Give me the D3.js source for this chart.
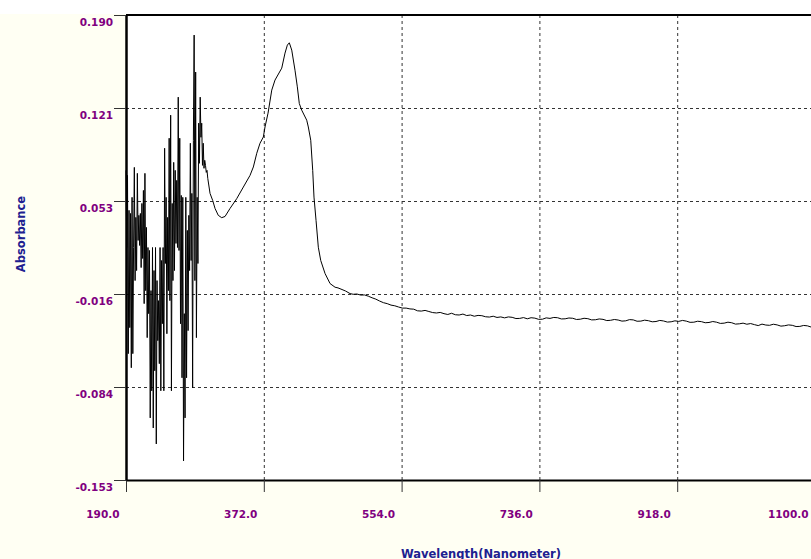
<!DOCTYPE html>
<html><head><meta charset="utf-8">
<script src="https://cdn.jsdelivr.net/npm/d3@7"></script>
<style>html,body{margin:0;padding:0;background:#fff;overflow:hidden}</style>
</head><body>
<svg id="c" width="811" height="559"></svg>
<script>
const xTickValues = [190, 372, 554, 736, 918, 1100];
const xTickLabels = ["190.0", "372.0", "554.0", "736.0", "918.0", "1100.0"];
const yTickValues = [0.190, 0.1214, 0.0528, -0.0158, -0.0844, -0.153];
const yTickLabels = ["0.190", "0.121", "0.053", "-0.016", "-0.084", "-0.153"];
const xTitle = "Wavelength(Nanometer)";
const yTitle = "Absorbance";

// noisy region 190-298 nm
const noiseWavelength = [190,191,192,193,194,195,196,197,198,199,200,201,202,203,204,205,206,207,208,209,
210,211,212,213,214,215,216,217,218,219,220,221,222,223,224,225,226,227,228,229,
230,231,232,233,234,235,236,237,238,239,240,241,242,243,244,245,246,247,248,249,
250,251,252,253,254,255,256,257,258,259,260,261,262,263,264,265,266,267,268,269,
270,271,272,273,274,275,276,277,278,279,280,281,282,283,284,285,286,287,288,289,
290,291,292,293,294,295,296,297,298];
const noiseAbsorbance = [0.0754,0.0185,0.0717,-0.0598,0.0459,-0.0406,0.0436,-0.0702,0.0555,-0.0598,
0.0185,0.0776,-0.0059,0.0407,0.0015,0.0732,0.0237,0.0422,0.0200,0.0436,
0.0037,0.0510,0.0104,0.0606,-0.0229,0.0732,-0.0133,0.0333,-0.0480,0.0185,
-0.0303,0.0163,-0.1072,-0.0133,-0.0872,0.0185,-0.1146,0.0015,-0.0724,0.0185,
-0.1264,-0.0059,-0.0502,-0.0207,-0.0672,0.0185,-0.0872,0.0089,-0.0377,0.0185,
-0.0872,0.0917,0.0067,0.0555,-0.0451,0.0407,-0.0133,0.0991,-0.0207,0.1161,
-0.0872,0.0510,-0.0059,0.0813,0.0015,0.0754,0.0215,0.0680,0.0185,0.1294,
0.0163,0.0991,-0.0377,0.0569,-0.0776,0.0555,-0.1389,-0.0303,-0.1072,0.0555,
-0.0776,0.0311,-0.0428,0.0422,0.0015,0.0954,0.0089,0.0584,-0.0850,0.0976,
0.1752,-0.0059,0.1479,-0.0480,0.0555,0.0067,0.1102,0.0806,0.1294,0.0998,
0.1102,0.0791,0.0954,0.0769,0.0828,0.0791,0.0739,0.0754,0.0695];

// absorption band
const bandWavelength = [301.0,304.5,307.6,311.9,316.4,320.8,327.4,336.2,345.0,353.8,358.2,362.7,367.0,371.4,373.6,
377.6,382.5,386.8,395.7,400.0,403.1,405.7,408.9,413.2,416.3,418.9,422.1,428.7,430.8,434.0,436.6,438.3,
441.0,444.0,447.2,452.9,459.5,466.1,470.0,475.3,480.0,485.9];
const bandAbsorbance = [0.0584,0.0532,0.0473,0.0422,0.0405,0.0414,0.0473,0.0545,0.0631,0.0717,0.0779,0.0880,0.0954,0.1000,0.1074,
0.1176,0.1346,0.1420,0.1508,0.1619,0.1678,0.1695,0.1641,0.1493,0.1370,0.1247,0.1198,0.1124,0.1074,0.0976,0.0754,0.0557,
0.0385,0.0187,0.0089,-0.0007,-0.0081,-0.0108,-0.0113,-0.0125,-0.0136,-0.0155];

// baseline tail
const tailWavelength = [490,495,500,505,510,515,520,525,530,535,540,545,550,555,560,565,570,575,580,585,
590,595,600,605,610,615,620,625,630,635,640,645,650,655,660,665,670,675,680,685,
690,695,700,705,710,715,720,725,730,735,740,745,750,755,760,765,770,775,780,785,
790,795,800,805,810,815,820,825,830,835,840,845,850,855,860,865,870,875,880,885,
890,895,900,905,910,915,920,925,930,935,940,945,950,955,960,965,970,975,980,985,
990,995,1000,1005,1010,1015,1020,1025,1030,1035,1040,1045,1050,1055,1060,1065,1070,1075,1080,1085,
1090,1095,1100];
const tailAbsorbance = [-0.0160,-0.0158,-0.0166,-0.0165,-0.0174,-0.0186,-0.0196,-0.0210,-0.0222,-0.0229,
-0.0240,-0.0245,-0.0254,-0.0262,-0.0262,-0.0268,-0.0270,-0.0282,-0.0284,-0.0279,
-0.0287,-0.0295,-0.0298,-0.0294,-0.0303,-0.0309,-0.0300,-0.0311,-0.0313,-0.0306,
-0.0317,-0.0313,-0.0322,-0.0316,-0.0318,-0.0326,-0.0328,-0.0322,-0.0331,-0.0327,
-0.0334,-0.0327,-0.0330,-0.0339,-0.0338,-0.0332,-0.0341,-0.0333,-0.0336,-0.0345,
-0.0344,-0.0334,-0.0338,-0.0331,-0.0333,-0.0342,-0.0341,-0.0335,-0.0337,-0.0346,
-0.0344,-0.0337,-0.0340,-0.0349,-0.0348,-0.0342,-0.0345,-0.0354,-0.0352,-0.0346,
-0.0350,-0.0358,-0.0356,-0.0347,-0.0349,-0.0359,-0.0358,-0.0351,-0.0355,-0.0363,
-0.0361,-0.0353,-0.0357,-0.0365,-0.0363,-0.0356,-0.0360,-0.0353,-0.0358,-0.0367,
-0.0366,-0.0359,-0.0362,-0.0370,-0.0368,-0.0361,-0.0366,-0.0375,-0.0373,-0.0366,
-0.0370,-0.0380,-0.0378,-0.0373,-0.0381,-0.0376,-0.0384,-0.0391,-0.0380,-0.0387,
-0.0389,-0.0381,-0.0386,-0.0395,-0.0392,-0.0386,-0.0389,-0.0398,-0.0397,-0.0390,
-0.0393,-0.0402,-0.0401];

const W = 811, H = 559;
const L = 126, R = 815, T = 15, B = 480;
const FONT = "'DejaVu Sans', Verdana, sans-serif";
const svg = d3.select("#c");

svg.append("rect").attr("x", 0).attr("y", 14).attr("width", W).attr("height", H - 14).attr("fill", "#fffff3");
svg.append("rect").attr("x", L).attr("y", T).attr("width", R - L).attr("height", B - T).attr("fill", "#ffffff");

const x = d3.scaleLinear().domain([190, 1100]).range([L, R]);
const y = d3.scaleLinear().domain([-0.153, 0.190]).range([B, T]);

// grid
const gy = svg.append("g").attr("transform", `translate(${L},0)`)
  .call(d3.axisLeft(y).tickValues(yTickValues.slice(1, -1)).tickSize(-(R - L)).tickFormat(""));
gy.select(".domain").remove();
gy.selectAll("line").attr("stroke", "#333").attr("stroke-dasharray", "3,3");
const gx = svg.append("g").attr("transform", `translate(0,${B})`)
  .call(d3.axisBottom(x).tickValues(xTickValues.slice(1, -1)).tickSize(-(B - T)).tickFormat(""));
gx.select(".domain").remove();
gx.selectAll("line").attr("stroke", "#333").attr("stroke-dasharray", "3,3");

// data
const pts = [];
noiseWavelength.forEach((w, i) => pts.push([w, noiseAbsorbance[i]]));
bandWavelength.forEach((w, i) => pts.push([w, bandAbsorbance[i]]));
tailWavelength.forEach((w, i) => pts.push([w, tailAbsorbance[i]]));
svg.append("path").datum(pts)
  .attr("fill", "none").attr("stroke", "#000").attr("stroke-width", 1)
  .attr("d", d3.line().x(d => x(d[0])).y(d => y(d[1])));

// axes
const ax = svg.append("g").attr("transform", `translate(0,${B})`)
  .call(d3.axisBottom(x).tickValues(xTickValues).tickFormat((d, i) => xTickLabels[i]).tickSize(12).tickSizeOuter(0));
ax.select(".domain").attr("stroke", "#000").attr("stroke-width", 2);
ax.selectAll(".tick line").attr("stroke", "#333");
ax.selectAll(".tick text").attr("text-anchor", "end").attr("x", -7).attr("y", 38).attr("dy", null)
  .attr("fill", "#800080").style("font", `bold 10.5px ${FONT}`);

const ay = svg.append("g").attr("transform", `translate(${L},0)`)
  .call(d3.axisLeft(y).tickValues(yTickValues).tickFormat((d, i) => yTickLabels[i]).tickSize(12).tickSizeOuter(0));
ay.select(".domain").attr("stroke", "#000").attr("stroke-width", 2.5);
ay.selectAll(".tick line").attr("stroke", "#333");
ay.selectAll(".tick text").attr("x", -13).attr("y", 10).attr("dy", null)
  .attr("fill", "#800080").style("font", `bold 10.5px ${FONT}`);

svg.append("line").attr("x1", L).attr("x2", R).attr("y1", T).attr("y2", T)
  .attr("stroke", "#000").attr("stroke-width", 2);

svg.append("text").attr("transform", "translate(25,234) rotate(-90)")
  .attr("text-anchor", "middle").attr("fill", "#202090")
  .style("font", `bold 11.5px ${FONT}`).text(yTitle);
svg.append("text").attr("x", 401).attr("y", 557.5)
  .attr("fill", "#202090").style("font", `bold 11.5px ${FONT}`).text(xTitle);
</script>
</body></html>
